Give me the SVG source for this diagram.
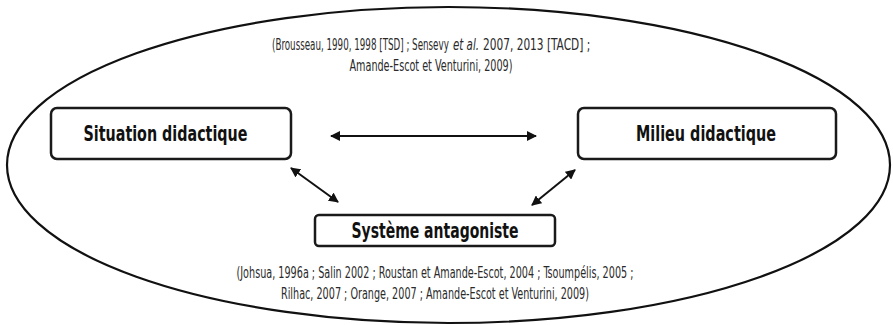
<svg xmlns="http://www.w3.org/2000/svg" width="893" height="325" viewBox="0 0 893 325">
<style>
.box{fill:#fff;stroke:#1a1a1a;stroke-width:2.5}
.lbl{font-family:"Liberation Sans Narrow","DejaVu Sans Condensed","Liberation Sans",sans-serif;font-weight:bold;font-size:22px;fill:#111;text-anchor:middle}
.cit{font-family:"Liberation Sans Narrow","DejaVu Sans Condensed","Liberation Sans",sans-serif;font-size:15px;fill:#2a2a2a;text-anchor:middle}
.st{text-anchor:start}
.con{stroke:#111;stroke-width:2;fill:none;marker-start:url(#ah);marker-end:url(#ah)}
</style>
<defs>
<marker id="ah" viewBox="0 0 10 10" refX="9" refY="5" markerWidth="5" markerHeight="5" orient="auto-start-reverse" markerUnits="strokeWidth">
<path d="M0,0 L10,5 L0,10 z" fill="#111"/>
</marker>
</defs>
<rect width="893" height="325" fill="#fff"/>
<ellipse cx="448.5" cy="165" rx="441.5" ry="158" fill="none" stroke="#111" stroke-width="2.2"/>
<g id="citation-top">
<text class="cit st" x="0" y="0" transform="translate(272 50) scale(0.65 1)" textLength="272" lengthAdjust="spacingAndGlyphs">(Brousseau, 1990, 1998 [TSD] ; Sensevy</text>
<text class="cit st" x="0" y="0" transform="translate(453 50) scale(0.65 1)" font-style="italic" textLength="40" lengthAdjust="spacingAndGlyphs">et al.</text>
<text class="cit st" x="0" y="0" transform="translate(483 50) scale(0.65 1)" textLength="165" lengthAdjust="spacingAndGlyphs">2007, 2013 [TACD] ;</text>
<text class="cit" x="431" y="71" textLength="163" lengthAdjust="spacingAndGlyphs">Amande-Escot et Venturini, 2009)</text>
</g>
<g id="situation">
<rect class="box" x="51" y="108" width="240" height="51" rx="6"/>
<text class="lbl" x="165.5" y="141" textLength="164" lengthAdjust="spacingAndGlyphs">Situation didactique</text>
</g>
<g id="milieu">
<rect class="box" x="578" y="108" width="258" height="51" rx="6"/>
<text class="lbl" x="706" y="141" textLength="140" lengthAdjust="spacingAndGlyphs">Milieu didactique</text>
</g>
<g id="systeme">
<rect class="box" x="315" y="215" width="240" height="31" rx="4"/>
<text class="lbl" x="435" y="237.5" textLength="167" lengthAdjust="spacingAndGlyphs">Système antagoniste</text>
</g>
<g id="citation-bottom">
<text class="cit" x="435" y="278" textLength="397" lengthAdjust="spacingAndGlyphs">(Johsua, 1996a ; Salin 2002 ; Roustan et Amande-Escot, 2004 ; Tsoumpélis, 2005 ;</text>
<text class="cit" x="435" y="299" textLength="308" lengthAdjust="spacingAndGlyphs">Rilhac, 2007 ; Orange, 2007 ; Amande-Escot et Venturini, 2009)</text>
</g>
<g id="connectors">
<line class="con" x1="331" y1="136" x2="536" y2="136"/>
<line class="con" x1="291" y1="168" x2="338" y2="202"/>
<line class="con" x1="575" y1="170" x2="532" y2="205"/>
</g>
</svg>
